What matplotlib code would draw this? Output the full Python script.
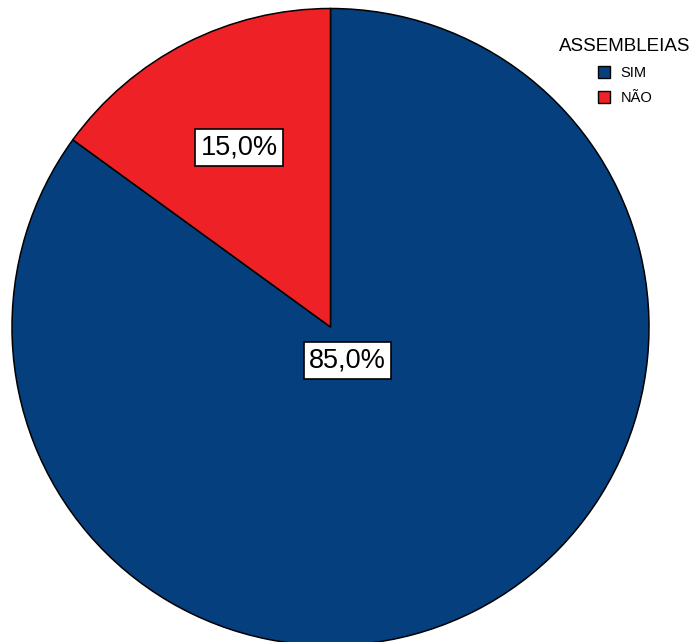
import matplotlib.pyplot as plt
import numpy as np
from matplotlib.patches import Patch

plt.rcParams['font.family'] = ['Liberation Sans', 'DejaVu Sans']

# dados da variável ASSEMBLEIAS
categorias = ["SIM", "NÃO"]
percentuais = [85.0, 15.0]
cores = ["#063f7e", "#ee2127"]
rotulos = ["85,0%", "15,0%"]

W, H = 697, 642
cx, cy, raio = 330.5, 327.0, 318.5

fig = plt.figure(figsize=(W / 100, H / 100), dpi=100)
ax = fig.add_axes([0, 0, 1, 1])

wedges, _ = ax.pie(percentuais, colors=cores, startangle=90, counterclock=False,
                   wedgeprops=dict(edgecolor="black", linewidth=1.1))

# distância do rótulo ao centro, por fatia
dist = [0.117, 0.633]
for w, txt, d in zip(wedges, rotulos, dist):
    ang = np.deg2rad((w.theta1 + w.theta2) / 2)
    ax.text(d * np.cos(ang), d * np.sin(ang), txt, ha="center", va="center",
            fontsize=19.5,
            bbox=dict(boxstyle="square,pad=0.2", facecolor="white",
                      edgecolor="black", linewidth=1.2))

ax.set_aspect("auto")
ax.set_xlim(-cx / raio, (W - cx) / raio)
ax.set_ylim(-(H - cy) / raio, cy / raio)
ax.axis("off")

handles = [Patch(facecolor=c, edgecolor="black", linewidth=1.0) for c in cores]
leg = fig.legend(handles, categorias, title="ASSEMBLEIAS", loc="upper center",
                 bbox_to_anchor=(625 / W, 1 - 38 / H), frameon=False,
                 fontsize=10.5, title_fontsize=13.5, handlelength=0.85,
                 handleheight=0.85, handletextpad=0.7, labelspacing=0.75,
                 borderpad=0, borderaxespad=0)

fig.savefig("out.png", dpi=100)
